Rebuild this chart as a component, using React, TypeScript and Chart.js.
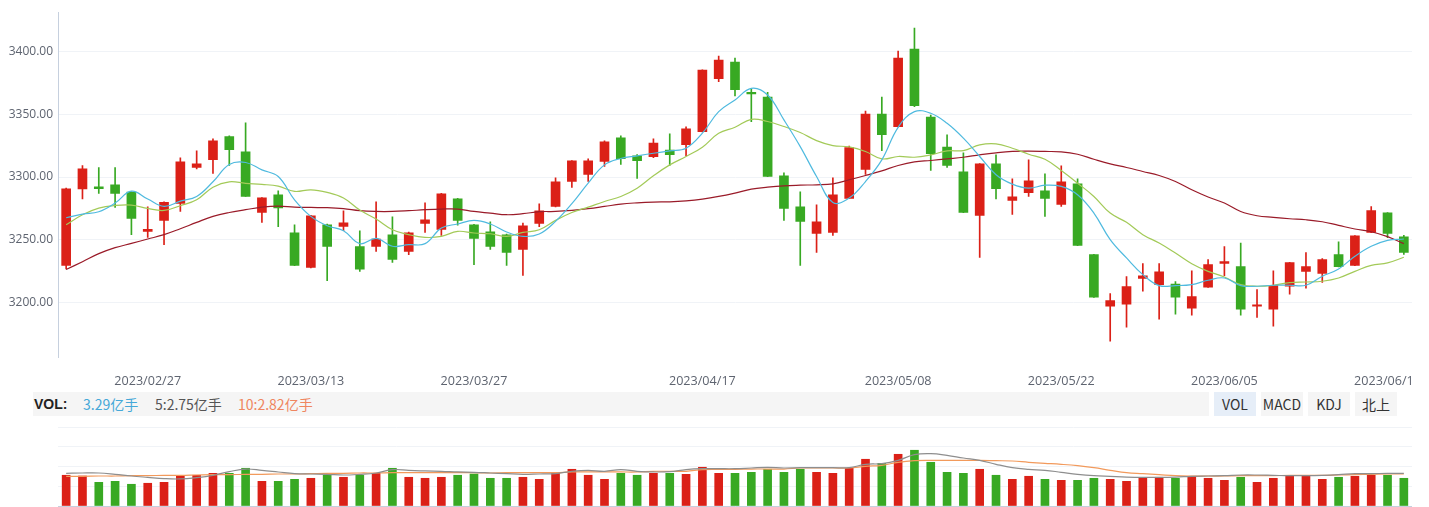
import React, { useEffect, useRef } from "react";
import { Chart, registerables } from "chart.js";
Chart.register(...registerables);

const dates: string[] = [
  "2023/02/20","2023/02/21","2023/02/22","2023/02/23","2023/02/24","2023/02/27","2023/02/28",
  "2023/03/01","2023/03/02","2023/03/03","2023/03/06","2023/03/07","2023/03/08","2023/03/09","2023/03/10",
  "2023/03/13","2023/03/14","2023/03/15","2023/03/16","2023/03/17","2023/03/20","2023/03/21","2023/03/22","2023/03/23","2023/03/24",
  "2023/03/27","2023/03/28","2023/03/29","2023/03/30","2023/03/31",
  "2023/04/03","2023/04/04","2023/04/06","2023/04/07","2023/04/10","2023/04/11","2023/04/12","2023/04/13","2023/04/14",
  "2023/04/17","2023/04/18","2023/04/19","2023/04/20","2023/04/21","2023/04/24","2023/04/25","2023/04/26","2023/04/27","2023/04/28",
  "2023/05/04","2023/05/05","2023/05/08","2023/05/09","2023/05/10","2023/05/11","2023/05/12","2023/05/15","2023/05/16","2023/05/17","2023/05/18","2023/05/19",
  "2023/05/22","2023/05/23","2023/05/24","2023/05/25","2023/05/26","2023/05/29","2023/05/30","2023/05/31",
  "2023/06/01","2023/06/02","2023/06/05","2023/06/06","2023/06/07","2023/06/08","2023/06/09",
  "2023/06/12","2023/06/13","2023/06/14","2023/06/15","2023/06/16","2023/06/19","2023/06/20"
];

const tickDates: string[] = ["2023/02/27","2023/03/13","2023/03/27","2023/04/17","2023/05/08","2023/05/22","2023/06/05","2023/06/19"];
const priceTicks: number[] = [3200, 3250, 3300, 3350, 3400];

const openP: number[] = [
  3229.5,3290.6,3292.2,3293.8,3287.9,3256.6,3265.3,3278.9,3307.6,3313.9,
  3332.3,3320.1,3271.7,3285.8,3255.5,3227.9,3261.9,3260.6,3244.4,3244.6,
  3253.9,3240.6,3262.9,3258.2,3282.6,3261.9,3256.3,3253.9,3242.2,3262.9,
  3276.5,3296.4,3302.0,3312.4,3331.2,3316.9,3316.3,3321.6,3325.9,3336.3,
  3378.5,3391.8,3366.8,3363.9,3300.9,3276.2,3254.9,3255.8,3282.9,3306.0,
  3350.3,3340.2,3402.1,3347.9,3324.0,3304.1,3269.3,3310.5,3281.3,3287.6,
  3289.0,3278.1,3294.6,3238.0,3196.8,3198.4,3219.1,3214.1,3214.6,3195.2,
  3212.0,3231.1,3228.4,3196.8,3194.4,3212.8,3224.7,3223.1,3238.0,3229.5,
  3255.8,3271.4,3252.3
];
const closeP: number[] = [
  3290.6,3306.5,3290.8,3286.9,3266.9,3258.2,3279.7,3312.1,3310.5,3328.8,
  3321.9,3284.5,3283.4,3275.4,3229.5,3269.1,3244.6,3263.5,3226.5,3250.5,
  3234.3,3255.5,3265.9,3286.6,3265.3,3251.0,3244.6,3239.8,3261.1,3273.0,
  3296.1,3312.9,3312.9,3328.0,3314.7,3313.1,3327.2,3317.9,3338.4,3385.4,
  3393.4,3369.7,3366.4,3300.4,3274.9,3264.5,3264.3,3285.8,3323.5,3350.3,
  3333.9,3395.0,3357.0,3318.7,3309.2,3271.7,3310.5,3290.8,3284.2,3296.9,
  3282.9,3296.1,3245.4,3204.0,3201.3,3212.5,3221.2,3224.4,3204.0,3204.5,
  3230.0,3232.4,3194.4,3197.6,3213.6,3231.6,3228.4,3234.0,3228.4,3253.1,
  3273.3,3254.9,3239.8
];
const highP: number[] = [
  3291.1,3309.2,3307.6,3307.6,3288.2,3276.2,3280.2,3315.3,3320.9,3330.4,
  3332.8,3343.2,3283.6,3289.0,3261.9,3269.4,3262.4,3273.0,3257.1,3280.2,
  3268.3,3256.0,3279.4,3286.9,3282.9,3262.2,3264.3,3254.5,3263.2,3278.6,
  3299.3,3313.2,3314.5,3328.8,3332.8,3317.9,3330.4,3334.4,3340.0,3385.6,
  3396.5,3395.0,3370.0,3367.6,3303.3,3288.2,3277.8,3299.3,3324.8,3352.7,
  3363.9,3400.5,3418.9,3349.5,3333.6,3319.3,3310.7,3317.7,3298.5,3313.7,
  3302.5,3308.9,3298.5,3238.2,3206.9,3220.5,3230.8,3230.8,3216.5,3225.2,
  3234.0,3244.4,3247.3,3210.1,3225.2,3231.8,3239.6,3234.8,3248.3,3253.3,
  3276.5,3271.6,3253.4
];
const lowP: number[] = [
  3226.6,3282.6,3286.9,3275.7,3253.9,3251.8,3245.9,3272.5,3306.5,3302.8,
  3309.2,3284.5,3263.7,3260.3,3229.2,3227.5,3217.3,3257.1,3224.7,3240.6,
  3231.9,3238.0,3255.8,3253.4,3261.6,3230.0,3242.2,3229.5,3221.5,3260.3,
  3276.2,3291.6,3296.4,3308.4,3310.0,3298.8,3315.5,3309.2,3317.1,3336.0,
  3376.1,3364.7,3344.2,3300.2,3265.3,3229.5,3239.8,3253.4,3282.7,3302.0,
  3321.1,3340.0,3356.2,3305.2,3307.6,3271.5,3235.9,3282.6,3270.1,3284.5,
  3268.5,3276.5,3245.2,3203.8,3168.9,3180.1,3208.8,3186.5,3190.4,3189.6,
  3211.8,3221.2,3189.6,3188.0,3180.9,3206.4,3211.2,3215.9,3228.2,3229.2,
  3255.6,3251.5,3238.2
];

const ma5: number[] = [
  3267.5,3270.4,3272.3,3279.2,3288.7,3282.4,3276.5,3280.8,3284.5,3296.2,
  3310.0,3311.6,3305.7,3300.4,3281.8,3268.6,3261.1,3257.1,3246.8,3251.0,
  3244.7,3246.0,3246.8,3259.3,3262.5,3265.4,3262.5,3256.1,3252.6,3254.5,
  3264.6,3278.7,3295.1,3309.7,3314.8,3316.9,3319.0,3320.9,3323.0,3335.0,
  3352.2,3361.5,3370.8,3365.5,3345.6,3324.3,3300.4,3279.7,3283.2,3296.4,
  3313.7,3339.7,3352.2,3350.9,3342.9,3331.0,3316.4,3301.8,3294.3,3291.1,
  3293.5,3292.5,3285.8,3271.2,3250.0,3235.4,3222.1,3213.3,3213.3,3214.1,
  3217.6,3219.4,3213.3,3212.8,3213.6,3213.6,3213.6,3220.8,3226.6,3236.7,
  3244.7,3249.4,3250.5
];
const ma10: number[] = [
  3261.9,3269.9,3275.2,3277.3,3277.6,3274.9,3273.3,3277.1,3281.8,3291.9,
  3296.2,3294.9,3294.1,3292.7,3288.5,3289.8,3287.7,3283.2,3273.6,3266.4,
  3257.9,3254.0,3251.8,3252.6,3256.6,3255.3,3254.7,3252.6,3255.8,3257.9,
  3265.4,3271.7,3276.0,3280.5,3284.5,3291.1,3301.0,3309.7,3316.4,3323.8,
  3335.0,3339.7,3346.1,3344.3,3340.3,3335.5,3329.1,3325.1,3324.1,3320.4,
  3314.5,3316.4,3315.8,3317.7,3320.9,3321.1,3325.7,3326.5,3323.0,3318.2,
  3314.2,3305.2,3295.1,3284.5,3271.2,3263.8,3254.0,3247.3,3239.3,3230.8,
  3224.7,3220.2,3214.1,3212.8,3213.6,3215.7,3216.2,3216.8,3219.4,3224.7,
  3229.5,3231.4,3235.9
];
const ma20: number[] = [
  3226.1,3232.4,3238.8,3243.6,3247.0,3250.5,3254.0,3258.7,3263.8,3268.6,
  3271.7,3273.9,3276.0,3276.8,3276.0,3275.7,3275.5,3274.7,3273.1,3272.5,
  3272.5,3273.1,3273.9,3274.4,3274.4,3272.5,3271.2,3269.9,3270.7,3272.3,
  3272.5,3273.3,3274.7,3276.5,3278.4,3279.4,3280.0,3280.2,3281.0,3282.4,
  3284.5,3287.2,3290.3,3291.9,3293.0,3293.5,3293.8,3294.6,3297.8,3301.2,
  3304.9,3309.2,3312.1,3313.2,3314.5,3315.8,3317.7,3319.3,3320.4,3320.6,
  3320.4,3320.1,3318.2,3314.2,3310.5,3307.6,3304.4,3301.2,3296.4,3289.8,
  3284.0,3279.2,3272.5,3269.1,3267.8,3266.7,3265.9,3264.3,3261.4,3258.5,
  3256.3,3252.4,3246.8
];

// volume in 亿手
const volume: number[] = [
  3.65,3.56,2.81,2.93,2.58,2.70,2.81,3.53,3.65,3.88,
  3.88,4.48,2.93,2.93,3.17,3.29,3.65,3.41,3.65,3.88,
  4.48,3.41,3.29,3.41,3.65,3.80,3.29,3.29,3.41,3.17,
  4.00,4.36,3.65,3.17,3.88,3.65,3.88,3.88,3.76,4.60,
  3.88,3.88,4.00,4.36,4.00,4.36,4.00,3.88,4.48,5.55,
  5.07,6.14,6.62,5.19,4.00,3.88,4.36,3.65,3.17,3.53,
  3.17,3.05,3.05,3.29,3.17,2.93,3.29,3.41,3.29,3.53,
  3.29,3.05,3.41,2.81,3.29,3.53,3.53,3.17,3.41,3.53,
  3.65,3.65,3.29
];
const volMa5: number[] = [
  3.88,3.92,3.92,3.76,3.56,3.40,3.25,3.21,3.37,3.64,
  4.08,4.39,4.24,4.04,3.84,3.80,3.76,3.68,3.76,3.92,
  4.32,4.24,4.16,4.12,4.04,4.00,3.92,3.84,3.76,3.80,
  3.84,4.12,4.24,4.12,4.32,4.12,4.04,4.08,4.32,4.43,
  4.43,4.43,4.51,4.59,4.51,4.55,4.55,4.55,4.55,4.95,
  5.03,5.42,6.10,6.22,6.02,5.70,5.42,4.95,4.55,4.35,
  4.24,4.00,3.76,3.60,3.52,3.44,3.40,3.40,3.44,3.52,
  3.56,3.60,3.68,3.68,3.64,3.60,3.60,3.64,3.72,3.84,
  3.84,3.88,3.88
];
const volMa10: number[] = [
  3.52,3.52,3.56,3.56,3.60,3.60,3.64,3.64,3.68,3.72,
  3.72,3.76,3.76,3.80,3.80,3.84,3.88,3.88,3.92,3.92,
  3.96,3.96,3.96,3.96,3.96,3.96,3.92,3.96,3.96,3.96,
  3.96,4.04,4.04,4.04,4.04,4.04,4.12,4.12,4.12,4.32,
  4.35,4.35,4.39,4.39,4.39,4.51,4.51,4.51,4.51,4.71,
  4.83,5.19,5.38,5.42,5.42,5.42,5.42,5.38,5.34,5.19,
  5.07,4.95,4.79,4.55,4.24,3.96,3.84,3.72,3.60,3.56,
  3.56,3.56,3.60,3.60,3.60,3.64,3.64,3.64,3.68,3.72,
  3.76,3.80,3.80
];

const UP = "#DB2017";
const DOWN = "#38A923";
const MA5C = "#4FBADF";
const MA10C = "#A3CA58";
const MA20C = "#9A1B29";
const VMA5C = "#8E8E8E";
const VMA10C = "#F29A5C";
const GRID = "#F0F3F7";
const AXIS = "#C6D0DE";
const TXT = "#5E6470";
const Y_FONT = { family: "'Open Sans', 'DejaVu Sans', sans-serif", size: 12 };
const X_FONT = { family: "'Open Sans', 'DejaVu Sans', sans-serif", size: 12.6 };

export default function App() {
  const mainRef = useRef<HTMLCanvasElement>(null);
  const volRef = useRef<HTMLCanvasElement>(null);

  useEffect(() => {
    const colors = openP.map((o, i) => (closeP[i] >= o ? UP : DOWN));
    const lineDs = (label: string, data: number[], color: string) => ({
      type: "line" as const,
      label,
      data,
      borderColor: color,
      backgroundColor: color,
      borderWidth: 1.2,
      pointRadius: 0,
      tension: 0.4,
      fill: false,
      order: 0,
    });

    const main = new Chart(mainRef.current!, {
      type: "bar",
      data: {
        labels: dates,
        datasets: [
          lineDs("MA5", ma5, MA5C) as any,
          lineDs("MA10", ma10, MA10C) as any,
          lineDs("MA20", ma20, MA20C) as any,
          {
            type: "bar",
            label: "wick",
            data: highP.map((h, i) => [lowP[i], h]),
            backgroundColor: colors,
            barThickness: 1,
            grouped: false,
            order: 2,
          } as any,
          {
            type: "bar",
            label: "body",
            data: openP.map((o, i) => [o, closeP[i]]),
            backgroundColor: colors,
            barThickness: 9,
            grouped: false,
            minBarLength: 1.5,
            order: 1,
          } as any,
        ],
      },
      options: {
        responsive: true,
        maintainAspectRatio: false,
        animation: false,
        layout: { padding: { top: 12, left: 0, right: 0, bottom: 0 } },
        plugins: { legend: { display: false }, tooltip: { enabled: false } },
        scales: {
          x: {
            offset: true,
            grid: {
              display: true,
              drawOnChartArea: false,
              drawTicks: true,
              tickLength: 9,
              color: "rgba(0,0,0,0)",
            },
            border: { display: false },
            ticks: {
              autoSkip: false,
              maxRotation: 0,
              minRotation: 0,
              padding: 8,
              color: TXT,
              font: X_FONT,
              callback: (_v: any, i: number) => (tickDates.includes(dates[i]) ? dates[i] : ""),
            },
            afterFit: (s: any) => {
              s.height = 35;
            },
          },
          y: {
            min: 3156.3,
            max: 3431.6,
            grid: { color: GRID, drawTicks: false, lineWidth: 1 },
            border: { display: true, color: AXIS, width: 1 },
            ticks: {
              padding: 5,
              color: TXT,
              font: Y_FONT,
              callback: (v: any) => Number(v).toFixed(2),
            },
            afterBuildTicks: (s: any) => {
              s.ticks = priceTicks.map((v) => ({ value: v }));
            },
            afterFit: (s: any) => {
              s.width = 58;
            },
          },
        },
      },
    });

    const vol = new Chart(volRef.current!, {
      type: "bar",
      data: {
        labels: dates,
        datasets: [
          lineDs("VMA5", volMa5, VMA5C) as any,
          lineDs("VMA10", volMa10, VMA10C) as any,
          {
            type: "bar",
            label: "VOL",
            data: volume,
            backgroundColor: colors,
            barThickness: 8,
            order: 1,
          } as any,
        ],
      },
      options: {
        responsive: true,
        maintainAspectRatio: false,
        animation: false,
        layout: { padding: { top: 7, left: 0, right: 0, bottom: 1 } },
        plugins: { legend: { display: false }, tooltip: { enabled: false } },
        scales: {
          x: {
            offset: true,
            grid: { display: false, drawTicks: false },
            border: { display: true, color: AXIS, width: 1 },
            ticks: { display: false },
            afterFit: (s: any) => {
              s.height = 0;
            },
          },
          y: {
            min: 0,
            max: 9.38,
            grid: { color: GRID, drawTicks: false, lineWidth: 1 },
            border: { display: false },
            ticks: { display: false, count: 5 },
            afterFit: (s: any) => {
              s.width = 58;
            },
          },
        },
      },
    });

    return () => {
      main.destroy();
      vol.destroy();
    };
  }, []);

  const cjk = "'Noto Sans CJK SC', 'Noto Sans', sans-serif";
  const btn = (label: string, left: number, active: boolean) => (
    <div
      key={label}
      style={{
        position: "absolute",
        left,
        top: 392,
        width: 42,
        height: 24,
        lineHeight: "24px",
        textAlign: "center",
        background: active ? "#E6EEF8" : "#F5F5F5",
        color: "#333",
        fontSize: 14,
        fontFamily: cjk,
      }}
    >
      {label}
    </div>
  );

  return (
    <div
      style={{
        position: "fixed",
        left: 0,
        top: 0,
        width: 1429,
        height: 507,
        background: "#fff",
        overflow: "hidden",
      }}
    >
      <div style={{ position: "absolute", left: 0, top: 0, width: 1412, height: 392 }}>
        <canvas ref={mainRef} />
      </div>
      <div
        style={{
          position: "absolute",
          left: 33,
          top: 392,
          width: 1176,
          height: 24,
          background: "#F5F5F5",
          fontFamily: cjk,
          fontSize: 14,
          lineHeight: "24px",
        }}
      >
        <span style={{ position: "absolute", left: 1, fontWeight: "bold", color: "#222", fontFamily: "'Liberation Sans', Arial, sans-serif" }}>VOL:</span>
        <span style={{ position: "absolute", left: 50, color: "#45A8D8" }}>3.29亿手</span>
        <span style={{ position: "absolute", left: 122, color: "#555" }}>5:2.75亿手</span>
        <span style={{ position: "absolute", left: 205, color: "#EF8660" }}>10:2.82亿手</span>
      </div>
      {btn("VOL", 1214, true)}
      {btn("MACD", 1261, false)}
      {btn("KDJ", 1308, false)}
      {btn("北上", 1355, false)}
      <div style={{ position: "absolute", left: 0, top: 420, width: 1412, height: 87 }}>
        <canvas ref={volRef} />
      </div>
    </div>
  );
}
